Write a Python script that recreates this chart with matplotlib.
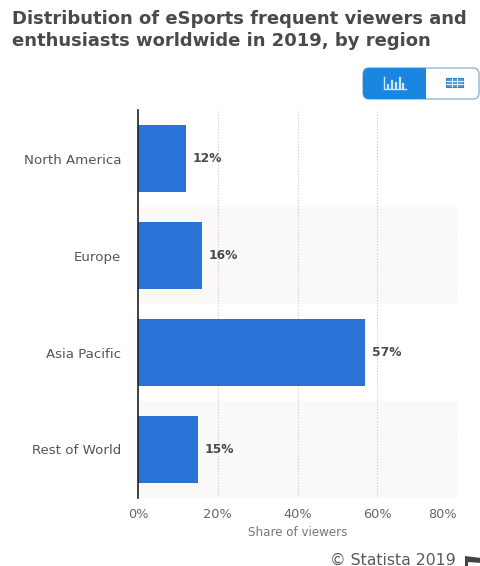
import matplotlib
matplotlib.use('Agg')
import matplotlib.pyplot as plt
from matplotlib.patches import FancyBboxPatch, Rectangle, Polygon

plt.rcParams['font.family'] = ['DejaVu Sans']

REGIONS = ['North America', 'Europe', 'Asia Pacific', 'Rest of World']
SHARES = [12, 16, 57, 15]
SHADED = ['Europe', 'Rest of World']
X_TICKS = [0, 20, 40, 60, 80]

BLUE = '#2b72d7'
TOGGLE_BLUE = '#1a86e0'
W, H = 481, 566


def px(x, y):
    # pixel position from the top-left corner to figure fraction
    return x / W, 1 - y / H


def add_header(fig):
    fig.text(*px(12, 19), 'Distribution of eSports frequent viewers and',
             fontsize=13, fontweight='bold', color='#4a4a4a', va='center')
    fig.text(*px(12, 41), 'enthusiasts worldwide in 2019, by region',
             fontsize=13, fontweight='bold', color='#4a4a4a', va='center')


def add_toggle(fig):
    tr = fig.transFigure
    x0, y0 = px(363, 99)
    x1, y1 = px(481, 68)
    fig.add_artist(FancyBboxPatch((x0, y0), x1 - x0 - 0.004, y1 - y0,
                                  boxstyle='round,pad=0,rounding_size=0.012',
                                  transform=tr, fc='white', ec='#8fb6d8', lw=1))
    x2, _ = px(426, 0)
    fig.add_artist(FancyBboxPatch((x0, y0), x2 - x0, y1 - y0,
                                  boxstyle='round,pad=0,rounding_size=0.012',
                                  transform=tr, fc=TOGGLE_BLUE, ec='none'))
    x3, _ = px(412, 0)
    fig.add_artist(Rectangle((x3, y0), x2 - x3, y1 - y0, transform=tr,
                             fc=TOGGLE_BLUE, ec='none'))

    # chart icon
    fig.add_artist(plt.Line2D([px(384, 0)[0], px(384, 0)[0], px(406, 0)[0]],
                              [px(0, 77)[1], px(0, 89)[1], px(0, 89)[1]],
                              transform=tr, color='#cfe6fa', lw=1))
    for x, top in [(388, 85), (392, 81), (396, 83), (400, 78), (403, 84)]:
        fig.add_artist(plt.Line2D([px(x, 0)[0]] * 2, [px(0, 88)[1], px(0, top)[1]],
                                  transform=tr, color='#cfe6fa', lw=1.6))

    # table icon
    xa, ya = px(446, 87)
    xb, yb = px(463, 78)
    fig.add_artist(Rectangle((xa, ya), xb - xa, yb - ya, transform=tr,
                             fc='#5b9bd5', ec='#2f7fc4', lw=0.8))
    for y in (81, 84):
        fig.add_artist(plt.Line2D([xa, xb], [px(0, y)[1]] * 2, transform=tr,
                                  color='white', lw=0.6))
    for x in (452, 457):
        fig.add_artist(plt.Line2D([px(x, 0)[0]] * 2, [ya, yb], transform=tr,
                                  color='white', lw=0.6))


def add_footer(fig):
    fig.text(*px(456, 560), '© Statista 2019', fontsize=11.3, color='#5a5a5a',
             ha='right', va='center')
    pts = [(465, 556), (481, 558), (481, 563), (468, 562), (468, 566), (465, 566)]
    fig.add_artist(Polygon([px(*p) for p in pts], transform=fig.transFigure,
                           fc='#444444', ec='none'))


fig = plt.figure(figsize=(W / 100, H / 100), dpi=100, facecolor='white')
ax = fig.add_axes([138 / W, 1 - 498 / H, (457 - 138) / W, (498 - 110) / H])

y = list(range(len(REGIONS)))

# faint background bands behind every other row
for i, region in zip(y, REGIONS):
    if region in SHADED:
        ax.axhspan(i - 0.5, i + 0.5, color='#fbf8f8', lw=0, zorder=0)

ax.barh(y, SHARES, height=0.69, color=BLUE, zorder=3)

for i, v in zip(y, SHARES):
    ax.text(v + 1.6, i, f'{v}%', va='center', ha='left', fontsize=8.8,
            fontweight='bold', color='#4a4a4a', zorder=4)

ax.set_xlim(0, 80)
ax.set_ylim(len(REGIONS) - 0.5, -0.5)
ax.set_yticks(y)
ax.set_yticklabels(REGIONS, fontsize=9.6, color='#555555')
ax.set_xticks(X_TICKS)
ax.set_xticklabels([f'{t}%' for t in X_TICKS], fontsize=9.3, color='#666666')
ax.get_xticklabels()[-1].set_ha('right')
ax.tick_params(axis='both', length=0)
ax.tick_params(axis='y', pad=12)
ax.tick_params(axis='x', pad=7)
ax.set_xlabel('Share of viewers', fontsize=8.6, color='#777777', labelpad=4)

ax.grid(axis='x', color='#c8c8c8', ls=':', lw=0.8, zorder=1)
ax.set_axisbelow(True)
for side in ('top', 'right', 'bottom'):
    ax.spines[side].set_visible(False)
ax.spines['left'].set_color('#222222')
ax.spines['left'].set_linewidth(1.2)
ax.spines['left'].set_zorder(5)

add_header(fig)
add_toggle(fig)
add_footer(fig)

fig.savefig('out.png', dpi=100)
